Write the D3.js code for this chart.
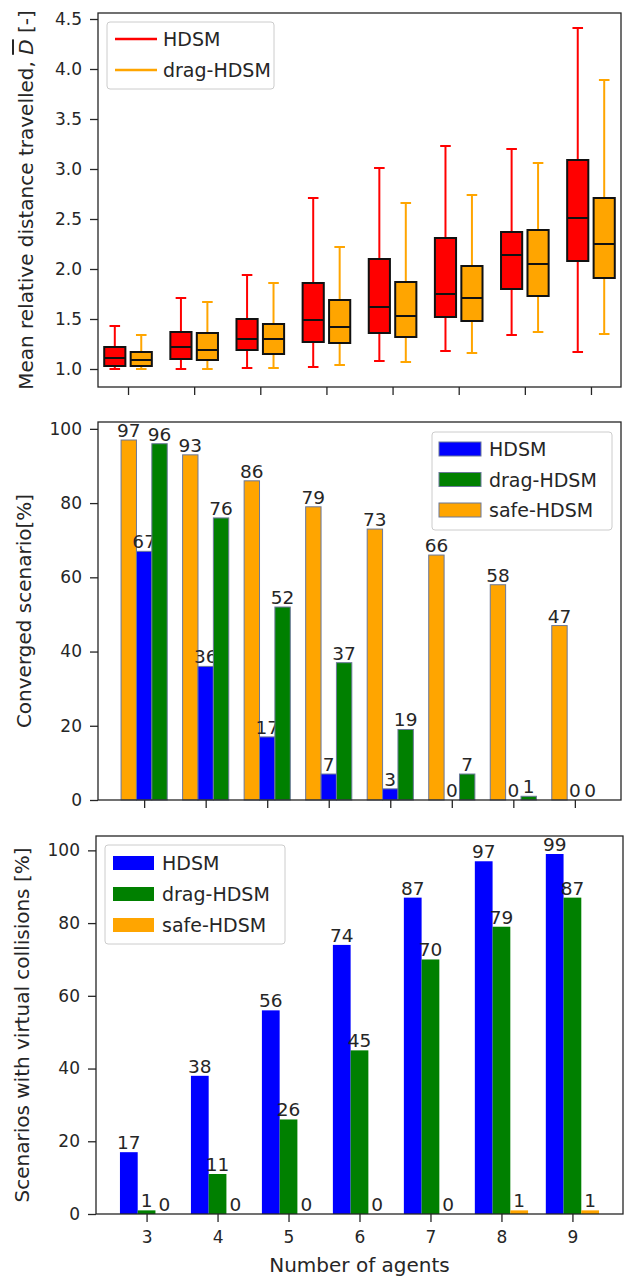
<!DOCTYPE html>
<html>
<head>
<meta charset="utf-8">
<script src="https://cdn.jsdelivr.net/npm/d3@7"></script>
<style>
  body { margin: 0; background: #fff; }
  text { font-family: "DejaVu Sans", sans-serif; fill: #262626; }
</style>
</head>
<body>
<svg width="626" height="1276"></svg>
<script>
// ---- data ----
// top panel: box plots, 8 groups (no tick labels shown)
var boxGroups = [1, 2, 3, 4, 5, 6, 7, 8];
// [whisker low, q1, median, q3, whisker high]
var hdsmBox = [
    [1.00, 1.03, 1.11, 1.22, 1.43],
    [1.00, 1.10, 1.22, 1.37, 1.71],
    [1.01, 1.19, 1.30, 1.50, 1.94],
    [1.02, 1.27, 1.49, 1.86, 2.71],
    [1.08, 1.36, 1.62, 2.10, 3.01],
    [1.18, 1.52, 1.75, 2.31, 3.23],
    [1.34, 1.80, 2.14, 2.37, 3.20],
    [1.17, 2.08, 2.51, 3.09, 4.41]
];
var dragBox = [
    [1.00, 1.03, 1.09, 1.17, 1.34],
    [1.00, 1.09, 1.19, 1.36, 1.67],
    [1.01, 1.15, 1.30, 1.45, 1.86],
    [1.04, 1.26, 1.42, 1.69, 2.22],
    [1.07, 1.32, 1.53, 1.87, 2.66],
    [1.16, 1.48, 1.71, 2.03, 2.74],
    [1.37, 1.73, 2.05, 2.39, 3.06],
    [1.35, 1.91, 2.25, 2.71, 3.89]
];
var topTicks = [1.0, 1.5, 2.0, 2.5, 3.0, 3.5, 4.0, 4.5];

// middle panel: converged scenarios [%], 8 groups
var convGroups = [0, 1, 2, 3, 4, 5, 6, 7];
var convHdsm = [67, 36, 17, 7, 3, 0, 0, 0];
var convDrag = [96, 76, 52, 37, 19, 7, 1, 0];
var convSafe = [97, 93, 86, 79, 73, 66, 58, 47];

// bottom panel: scenarios with virtual collisions [%]
var agents = [3, 4, 5, 6, 7, 8, 9];
var collHdsm = [17, 38, 56, 74, 87, 97, 99];
var collDrag = [1, 11, 26, 45, 70, 79, 87];
var collSafe = [0, 0, 0, 0, 0, 1, 1];

var pctTicks = [0, 20, 40, 60, 80, 100];

var RED = "#ff0000", ORANGE = "#ffa500", BLUE = "#0000ff", GREEN = "#008000";

var svg = d3.select("svg");

function frame(x, y) {
    svg.append("rect")
        .attr("x", x.range()[0]).attr("y", y.range()[1])
        .attr("width", x.range()[1] - x.range()[0])
        .attr("height", y.range()[0] - y.range()[1])
        .attr("fill", "none").attr("stroke", "#262626").attr("stroke-width", 1.3);
}

function axes(x, y, xticks, xfmt, yticks, yfmt) {
    var ax = svg.append("g")
        .attr("transform", "translate(0," + y.range()[0] + ")")
        .call(d3.axisBottom(x).tickValues(xticks).tickSize(8).tickPadding(9).tickFormat(xfmt));
    var ay = svg.append("g")
        .attr("transform", "translate(" + x.range()[0] + ",0)")
        .call(d3.axisLeft(y).tickValues(yticks).tickSize(8).tickPadding(8).tickFormat(yfmt));
    [ax, ay].forEach(function(a) {
        a.select(".domain").remove();
        a.selectAll("line").attr("stroke", "#262626").attr("stroke-width", 1.3);
        a.selectAll("text").attr("font-size", 17).attr("fill", "#262626")
            .attr("font-family", "DejaVu Sans");
    });
}

function yLabel(x, y, txt) {
    return svg.append("text")
        .attr("transform", "translate(" + x + "," + ((y.range()[0] + y.range()[1]) / 2) + ") rotate(-90)")
        .attr("text-anchor", "middle")
        .attr("dominant-baseline", "central")
        .attr("font-size", 20)
        .text(txt);
}

function legendBox(x0, y0, w, h) {
    svg.append("rect")
        .attr("x", x0).attr("y", y0).attr("width", w).attr("height", h)
        .attr("rx", 3)
        .attr("fill", "#fff").attr("fill-opacity", 0.85)
        .attr("stroke", "#cccccc").attr("stroke-width", 1);
}

// ---- top: box plots ----
var xTop = d3.scaleLinear().domain([0.546, 8.454]).range([98, 621]);
var yTop = d3.scaleLinear().domain([0.82, 4.56]).range([387, 13]);

function drawBoxes(data, off, color) {
    var bw = 0.32, cw = 0.16;
    var g = svg.append("g");
    data.forEach(function(d, i) {
        var c = boxGroups[i] + off;
        var gx = g.append("g");
        // whiskers
        gx.append("line").attr("x1", xTop(c)).attr("x2", xTop(c))
            .attr("y1", yTop(d[0])).attr("y2", yTop(d[1]))
            .attr("stroke", color).attr("stroke-width", 2);
        gx.append("line").attr("x1", xTop(c)).attr("x2", xTop(c))
            .attr("y1", yTop(d[3])).attr("y2", yTop(d[4]))
            .attr("stroke", color).attr("stroke-width", 2);
        // caps
        [d[0], d[4]].forEach(function(v) {
            gx.append("line").attr("x1", xTop(c - cw / 2)).attr("x2", xTop(c + cw / 2))
                .attr("y1", yTop(v)).attr("y2", yTop(v))
                .attr("stroke", color).attr("stroke-width", 2);
        });
        gx.append("rect")
            .attr("x", xTop(c - bw / 2)).attr("width", xTop(c + bw / 2) - xTop(c - bw / 2))
            .attr("y", yTop(d[3])).attr("height", yTop(d[1]) - yTop(d[3]))
            .attr("fill", color).attr("stroke", "#111").attr("stroke-width", 2);
        gx.append("line").attr("x1", xTop(c - bw / 2)).attr("x2", xTop(c + bw / 2))
            .attr("y1", yTop(d[2])).attr("y2", yTop(d[2]))
            .attr("stroke", "#111").attr("stroke-width", 2);
    });
}

drawBoxes(hdsmBox, -0.2, RED);
drawBoxes(dragBox, 0.2, ORANGE);
frame(xTop, yTop);
axes(xTop, yTop, boxGroups, function() { return ""; }, topTicks, d3.format(".1f"));

var tl = yLabel(26, yTop, "Mean relative distance travelled, ");
tl.append("tspan").attr("font-style", "italic").attr("text-decoration", "overline").text("D");
tl.append("tspan").text(" [-]");

legendBox(107, 22, 167, 67);
[["HDSM", RED], ["drag-HDSM", ORANGE]].forEach(function(e, i) {
    var ly = 39 + i * 31;
    svg.append("line").attr("x1", 115).attr("x2", 157).attr("y1", ly).attr("y2", ly)
        .attr("stroke", e[1]).attr("stroke-width", 2.5);
    svg.append("text").attr("x", 163).attr("y", ly).attr("dominant-baseline", "central")
        .attr("font-size", 19).text(e[0]);
});

// ---- middle: converged scenarios ----
var xMid = d3.scaleLinear().domain([-0.75, 7.75]).range([98, 621]);
var yMid = d3.scaleLinear().domain([0, 101.85]).range([800, 422]);

function drawBars(x, y, groups, vals, off, color, edge) {
    var w = 0.25;
    var g = svg.append("g");
    g.selectAll("rect").data(vals).enter().append("rect")
        .attr("x", function(d, i) { return x(groups[i] + off - w / 2); })
        .attr("width", x(w) - x(0))
        .attr("y", function(d) { return y(d); })
        .attr("height", function(d) { return y(0) - y(d); })
        .attr("fill", color)
        .attr("stroke", edge ? "#6b7899" : "none")
        .attr("stroke-width", edge ? 1 : 0);
    g.selectAll("text").data(vals).enter().append("text")
        .attr("x", function(d, i) { return x(groups[i] + off); })
        .attr("y", function(d) { return y(d) - 3; })
        .attr("text-anchor", "middle")
        .attr("font-size", 18.5)
        .text(function(d) { return d; });
}

drawBars(xMid, yMid, convGroups, convSafe, -0.25, ORANGE, true);
drawBars(xMid, yMid, convGroups, convHdsm, 0, BLUE, true);
drawBars(xMid, yMid, convGroups, convDrag, 0.25, GREEN, true);
frame(xMid, yMid);
axes(xMid, yMid, convGroups, function() { return ""; }, pctTicks, d3.format("d"));
yLabel(24, yMid, "Converged scenario[%]");

legendBox(432, 432, 180, 98);
[["HDSM", BLUE], ["drag-HDSM", GREEN], ["safe-HDSM", ORANGE]].forEach(function(e, i) {
    var ly = 449 + i * 30.5;
    svg.append("rect").attr("x", 439).attr("y", ly - 7).attr("width", 42).attr("height", 14)
        .attr("fill", e[1]).attr("stroke", "#6b7899").attr("stroke-width", 1);
    svg.append("text").attr("x", 489).attr("y", ly).attr("dominant-baseline", "central")
        .attr("font-size", 19).text(e[0]);
});

// ---- bottom: virtual collisions ----
var xBot = d3.scaleLinear().domain([-0.7125, 6.7125]).range([96, 623]);
var yBot = d3.scaleLinear().domain([0, 103.95]).range([1214, 836]);
var botIdx = agents.map(function(a, i) { return i; });

drawBars(xBot, yBot, botIdx, collHdsm, -0.25, BLUE, false);
drawBars(xBot, yBot, botIdx, collDrag, 0, GREEN, false);
drawBars(xBot, yBot, botIdx, collSafe, 0.25, ORANGE, false);
frame(xBot, yBot);
axes(xBot, yBot, botIdx, function(i) { return agents[i]; }, pctTicks, d3.format("d"));
yLabel(22, yBot, "Scenarios with virtual collisions [%]");

svg.append("text")
    .attr("x", (xBot.range()[0] + xBot.range()[1]) / 2).attr("y", 1265)
    .attr("text-anchor", "middle").attr("dominant-baseline", "central")
    .attr("font-size", 20).text("Number of agents");

legendBox(105, 845, 180, 99);
[["HDSM", BLUE], ["drag-HDSM", GREEN], ["safe-HDSM", ORANGE]].forEach(function(e, i) {
    var ly = 863 + i * 31;
    svg.append("rect").attr("x", 113).attr("y", ly - 7).attr("width", 41).attr("height", 14)
        .attr("fill", e[1]);
    svg.append("text").attr("x", 162).attr("y", ly).attr("dominant-baseline", "central")
        .attr("font-size", 19).text(e[0]);
});
</script>
</body>
</html>
